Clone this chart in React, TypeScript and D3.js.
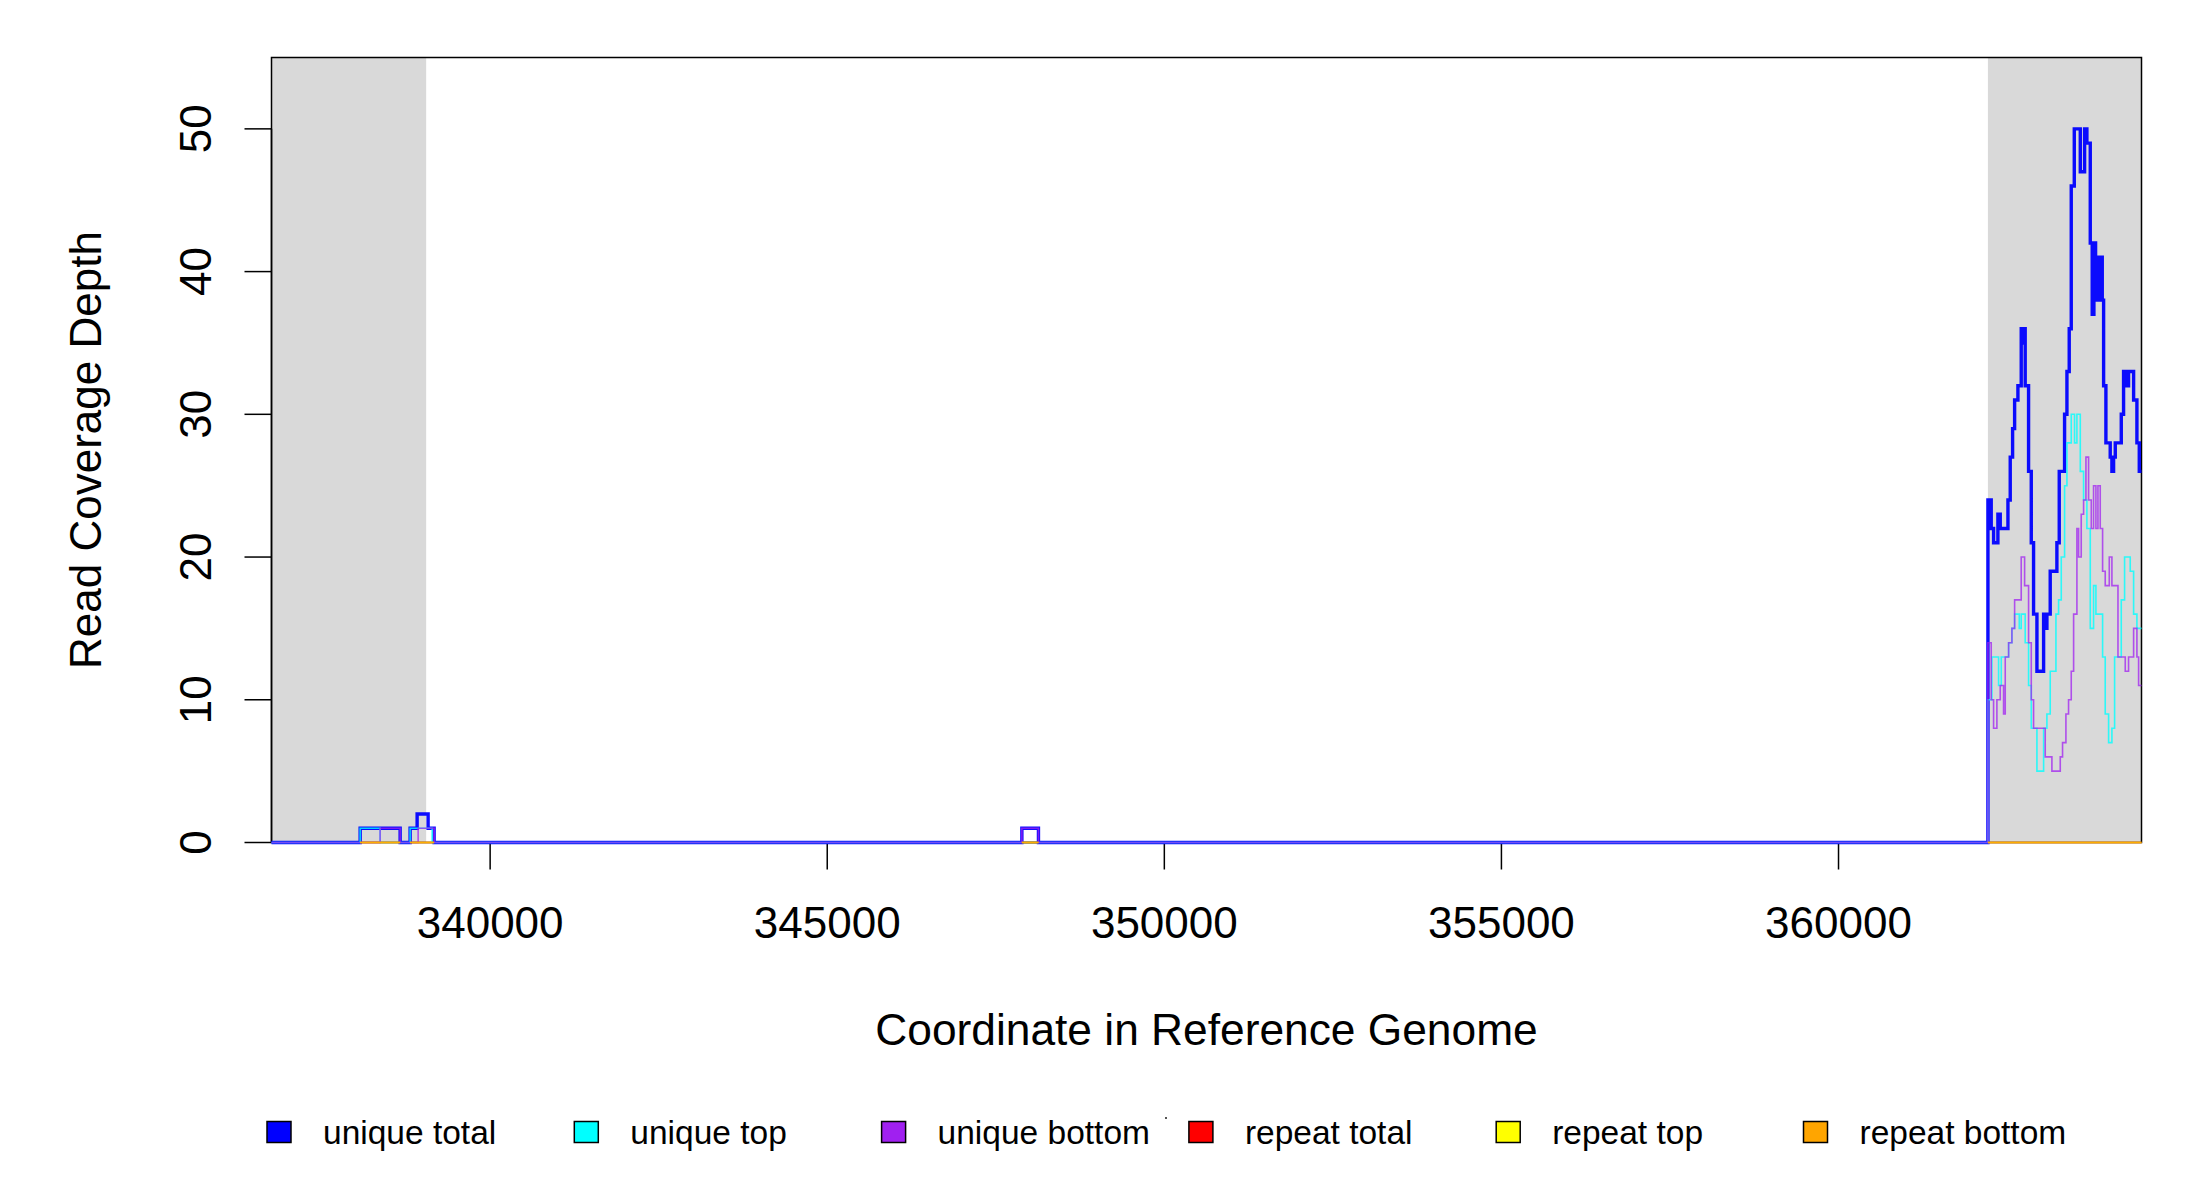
import React from "react";
import * as d3 from "d3";

// ---- data ----
const xDomain = [336757, 364494];
const yDomain = [0, 55];
const flankRegions = [
  [336757, 339051],
  [362216, 364494],
];
const xTicks = [340000, 345000, 350000, 355000, 360000];
const yTicks = [0, 10, 20, 30, 40, 50];

// step series: breakpoint positions (bp) and depth from that position onward
const uniqueTotalPos = [336757, 338072, 338665, 338813, 338917, 339080, 339169, 347887, 348133,
  362216, 362265, 362300, 362364, 362399, 362513, 362547, 362582, 362612, 362661, 362710, 362740, 362755,
  362769, 362819, 362859, 362893, 362943, 363042, 363066, 363091, 363140, 363239, 363274, 363353, 363388,
  363422, 363452, 363497, 363586, 363650, 363684, 363734, 363763, 363788, 363813, 363833, 363862, 363887,
  363912, 363932, 363966, 364030, 364055, 364080, 364105, 364194, 364228, 364278, 364302, 364377, 364426,
  364461];
const uniqueTotalVal = [0, 1, 0, 1, 2, 1, 0, 1, 0,
  24, 22, 21, 23, 22, 24, 27, 29, 31, 32, 36, 35, 36,
  32, 26, 21, 16, 12, 16, 15, 16, 19, 21, 26, 30, 33,
  36, 46, 50, 47, 50, 49, 42, 37, 42, 38, 41, 38, 41,
  38, 32, 28, 27, 26, 27, 28, 30, 33, 32, 33, 31, 28,
  26];

const uniqueTopPos = [336757, 338072, 338368, 338813, 339140,
  362216, 362275, 362374, 362414, 362523, 362572, 362612, 362681, 362710, 362769, 362819, 362859, 362943,
  363042, 363091, 363140, 363225, 363264, 363304, 363353, 363388, 363452, 363501, 363536, 363586, 363635,
  363684, 363734, 363783, 363818, 363917, 363956, 364006, 364055, 364095, 364194, 364243, 364327, 364377,
  364426];
const uniqueTopVal = [0, 1, 0, 1, 0,
  10, 13, 11, 13, 14, 15, 16, 15, 16, 14, 11, 8, 5,
  8, 9, 12, 16, 17, 20, 25, 28, 30, 28, 30, 26, 24,
  22, 15, 18, 16, 13, 9, 7, 8, 13, 17, 20, 19, 16,
  15];

const uniqueBottomPos = [336757, 338368, 338665, 338932, 339169, 347887, 348133,
  362216, 362265, 362300, 362349, 362399, 362448, 362473, 362523, 362572, 362612, 362710, 362760, 362819,
  362859, 362893, 363066, 363165, 363289, 363323, 363373, 363412, 363452, 363487, 363536, 363561, 363600,
  363635, 363670, 363709, 363749, 363783, 363818, 363848, 363882, 363917, 363956, 364016, 364055, 364145,
  364253, 364302, 364377, 364426, 364451];
const uniqueBottomVal = [0, 1, 0, 1, 0, 1, 0,
  14, 10, 8, 10, 11, 9, 13, 14, 15, 17, 20, 18, 14,
  10, 8, 6, 5, 6, 7, 9, 10, 12, 16, 22, 20, 23,
  24, 27, 24, 22, 25, 22, 25, 22, 19, 18, 20, 18, 13,
  12, 13, 15, 13, 11];

// repeat reads: zero depth over the covered spans
const repeatSpanStart = [338072, 338813, 347887, 362216];
const repeatSpanEnd = [338665, 339169, 348133, 364494];
const repeatTotalVal = [0, 0, 0, 0];
const repeatTopVal = [0, 0, 0, 0];
const repeatBottomVal = [0, 0, 0, 0];

const legendLabels = ["unique total", "unique top", "unique bottom", "repeat total", "repeat top", "repeat bottom"];
const legendColors = ["#0000FF", "#00FFFF", "#A020F0", "#FF0000", "#FFFF00", "#FFA500"];

// ---- layout ----
const W = 2200;
const H = 1200;
const M = { left: 271.5, right: 2141.5, top: 57.5, bottom: 842.5 };
const FONT = "'Liberation Sans', Arial, Helvetica, sans-serif";

export default function App() {
  const x = d3.scaleLinear().domain(xDomain).range([M.left, M.right]);
  const y = d3.scaleLinear().domain(yDomain).range([M.bottom, M.top]);

  const stepPath = (pos: number[], val: number[]) => {
    const pts: [number, number][] = pos.map((p, i) => [p, val[i]]);
    pts.push([xDomain[1], val[val.length - 1]]);
    return d3
      .line<[number, number]>()
      .x((d) => x(d[0]))
      .y((d) => y(d[1]))
      .curve(d3.curveStepAfter)(pts) as string;
  };

  const spanPath = (vals: number[]) =>
    repeatSpanStart
      .map((s, i) =>
        d3
          .line<[number, number]>()
          .x((d) => x(d[0]))
          .y((d) => y(d[1]))([
          [s, vals[i]],
          [repeatSpanEnd[i], vals[i]],
        ])
      )
      .join(" ");

  const series = [
    { d: stepPath(uniqueTotalPos, uniqueTotalVal), color: legendColors[0], w: 3.4, o: 0.95 },
    { d: stepPath(uniqueTopPos, uniqueTopVal), color: legendColors[1], w: 1.6, o: 0.8 },
    { d: stepPath(uniqueBottomPos, uniqueBottomVal), color: legendColors[2], w: 1.6, o: 0.75 },
    { d: spanPath(repeatTotalVal), color: legendColors[3], w: 1.6, o: 0.8 },
    { d: spanPath(repeatTopVal), color: legendColors[4], w: 1.6, o: 0.8 },
    { d: spanPath(repeatBottomVal), color: legendColors[5], w: 1.6, o: 0.8 },
  ];

  const legendX0 = 279;
  const legendStep = 307.3;
  const legendY = 1132;

  return (
    <svg
      width={W}
      height={H}
      style={{ position: "absolute", left: 0, top: 0, background: "#fff" }}
      fontFamily={FONT}
    >
      <rect x={0} y={0} width={W} height={H} fill="#fff" />
      {flankRegions.map((r, i) => (
        <rect key={i} x={x(r[0])} y={M.top} width={x(r[1]) - x(r[0])} height={M.bottom - M.top} fill="#D9D9D9" />
      ))}
      <rect x={M.left} y={M.top} width={M.right - M.left} height={M.bottom - M.top} fill="none" stroke="#000" strokeWidth={1.5} />

      {/* x axis */}
      <line x1={x(xTicks[0])} x2={x(xTicks[xTicks.length - 1])} y1={M.bottom} y2={M.bottom} stroke="#000" strokeWidth={1.5} />
      {xTicks.map((t) => (
        <g key={t}>
          <line x1={x(t)} x2={x(t)} y1={M.bottom} y2={M.bottom + 27} stroke="#000" strokeWidth={1.5} />
          <text x={x(t)} y={938} fontSize={44} textAnchor="middle" fill="#000">
            {t}
          </text>
        </g>
      ))}
      {/* y axis */}
      <line x1={M.left} x2={M.left} y1={y(yTicks[0])} y2={y(yTicks[yTicks.length - 1])} stroke="#000" strokeWidth={1.5} />
      {yTicks.map((t) => (
        <g key={t}>
          <line x1={M.left - 27} x2={M.left} y1={y(t)} y2={y(t)} stroke="#000" strokeWidth={1.5} />
          <text transform={`translate(211,${y(t)}) rotate(-90)`} fontSize={44} textAnchor="middle" fill="#000">
            {t}
          </text>
        </g>
      ))}

      {series.map((s, i) => (
        <path key={i} d={s.d} fill="none" stroke={s.color} strokeWidth={s.w} strokeOpacity={s.o} strokeLinejoin="miter" />
      ))}

      <text x={(M.left + M.right) / 2} y={1045} fontSize={44.3} textAnchor="middle" fill="#000">
        Coordinate in Reference Genome
      </text>
      <text transform={`translate(101,${(M.top + M.bottom) / 2}) rotate(-90)`} fontSize={44} textAnchor="middle" fill="#000">
        Read Coverage Depth
      </text>

      {legendLabels.map((lab, i) => {
        const cx = legendX0 + i * legendStep;
        return (
          <g key={lab}>
            <rect x={cx - 12} y={legendY - 10.5} width={24} height={21} fill={legendColors[i]} stroke="#000" strokeWidth={1.5} />
            <text x={cx + 44} y={legendY + 12} fontSize={33.5} fill="#000">
              {lab}
            </text>
          </g>
        );
      })}
      <rect x={1165} y={1117} width={2} height={2} fill="#555" />
    </svg>
  );
}
